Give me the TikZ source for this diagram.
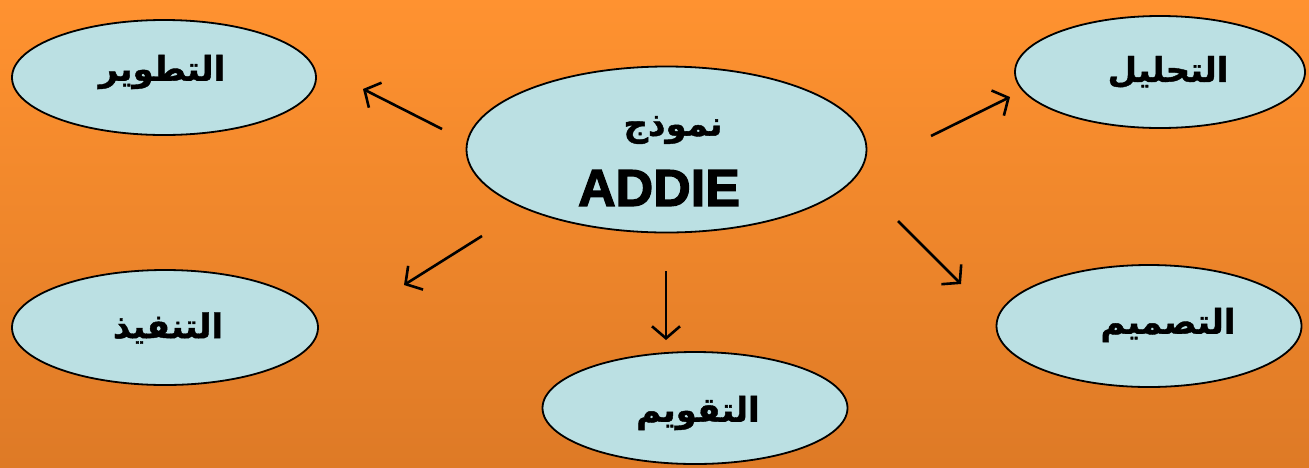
\documentclass[tikz,border=0pt]{standalone}
\usepackage{fontspec}
\setmainfont{Liberation Sans}
\newfontfamily\arabicfont[Script=Arabic,FakeBold=1.2]{DejaVu Sans Bold}
\newfontface\addiefont[FakeBold=2.5]{Liberation Sans Bold}
\TeXXeTstate=1
\usetikzlibrary{shapes.geometric,arrows.meta}
\definecolor{bgtop}{RGB}{255,146,48}
\definecolor{bgbot}{RGB}{222,122,38}
\definecolor{ellfill}{RGB}{187,224,227}
\tikzset{
  ell/.style={ellipse, draw=black, line width=1.8pt, fill=ellfill, inner sep=0pt},
  lbl/.style={font=\arabicfont\fontsize{34}{38}\selectfont, inner sep=0pt},
  arr/.style={line width=2.6pt, -{Straight Barb[length=12pt,width=28pt,line width=2.6pt]}}
}
\begin{document}
\begin{tikzpicture}[x=1pt,y=-1pt]
\useasboundingbox (0,0) rectangle (1309,467);
\shade[top color=bgtop, bottom color=bgbot] (0,0) rectangle (1309,467);
% ellipses
\node[ell, minimum width=400pt, minimum height=166pt] (c) at (666.5,149.5) {};
\node[ell, minimum width=304pt, minimum height=115pt] (dev) at (164,77.5) {};
\node[ell, minimum width=290pt, minimum height=112pt] (ana) at (1160,72) {};
\node[ell, minimum width=306pt, minimum height=115pt] (imp) at (165,327.5) {};
\node[ell, minimum width=305pt, minimum height=122pt] (des) at (1149,326) {};
\node[ell, minimum width=305pt, minimum height=112pt] (eva) at (695,408) {};
% labels
\node[lbl] (t1) at (673,130) {\beginR نموذج\endR};
\node[font=\addiefont\fontsize{52}{56}\selectfont, inner sep=0pt] (t2) at (659,188) {ADDIE};
\node[lbl] (tdev) at (162,72) {\beginR التطوير\endR};
\node[lbl] (tana) at (1168,72) {\beginR التحليل\endR};
\node[lbl] (timp) at (168,328) {\beginR التنفيذ\endR};
\node[lbl] (tdes) at (1168,325) {\beginR التصميم\endR};
\node[lbl] (teva) at (698,413) {\beginR التقويم\endR};
% arrow endpoints
\coordinate (a1s) at (442,129); \coordinate (a1e) at (363,89);
\coordinate (a2s) at (482,236); \coordinate (a2e) at (404,285);
\coordinate (a3s) at (666,271); \coordinate (a3e) at (666,340);
\coordinate (a4s) at (898,221); \coordinate (a4e) at (961,284);
\coordinate (a5s) at (931,136); \coordinate (a5e) at (1010,97);
\draw[arr] (a1s) -- (a1e);
\draw[arr] (a2s) -- (a2e);
\draw[arr] (a3s) -- (a3e);
\draw[arr] (a4s) -- (a4e);
\draw[arr] (a5s) -- (a5e);
\end{tikzpicture}
\end{document}
